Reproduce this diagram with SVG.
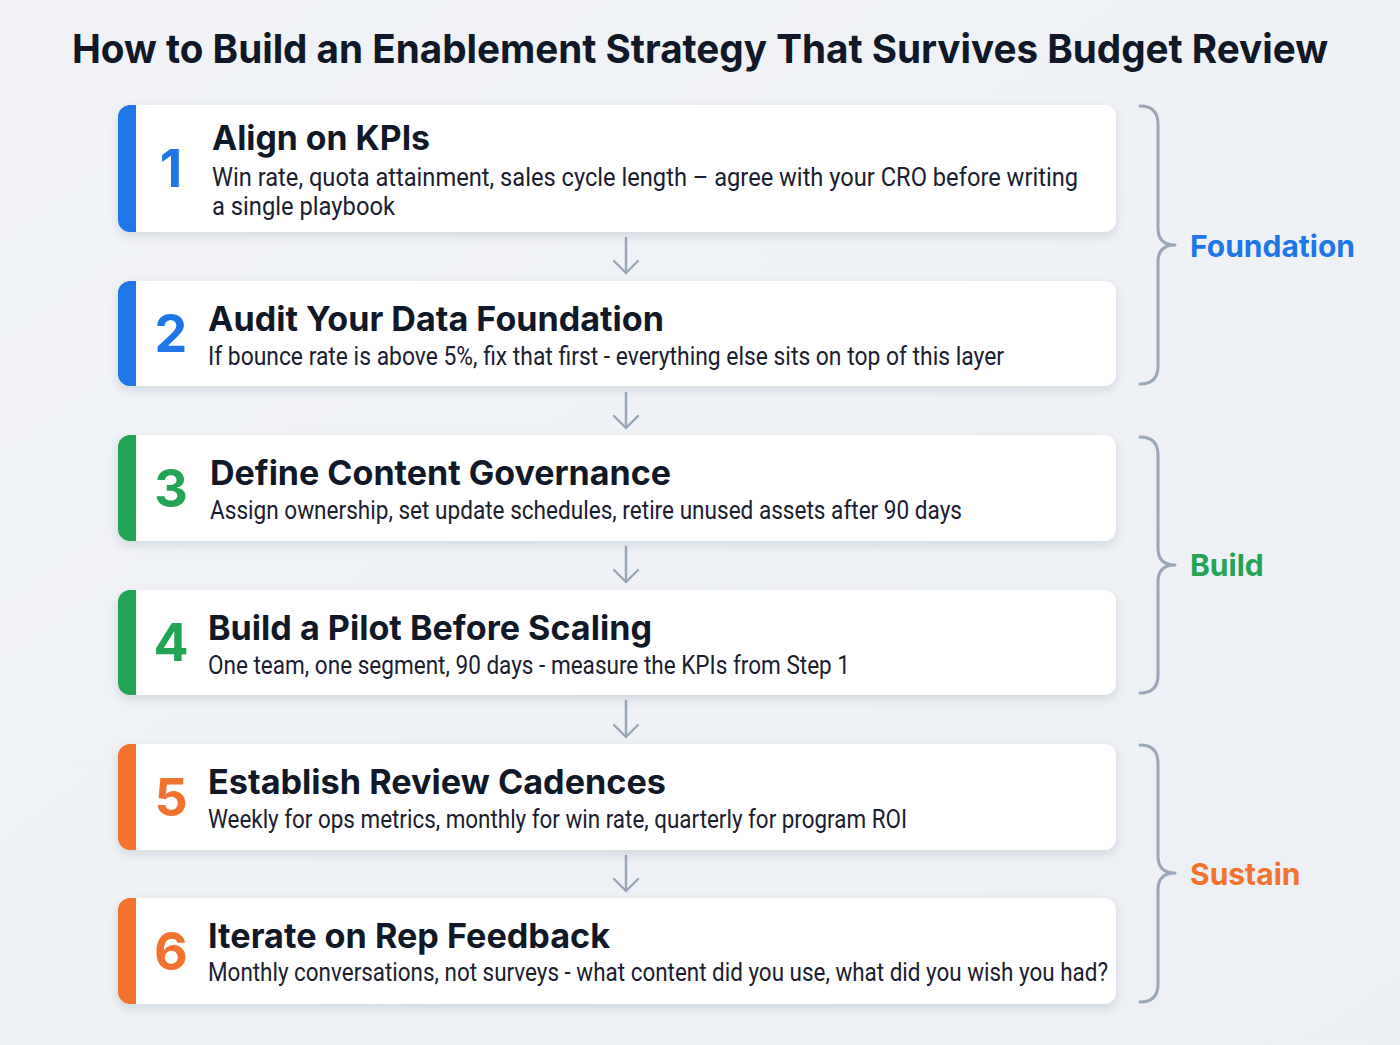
<svg xmlns="http://www.w3.org/2000/svg" width="1400" height="1045" viewBox="0 0 1400 1045">
<defs>
<linearGradient id="bg" x1="0" y1="0" x2="1" y2="1">
<stop offset="0" stop-color="#f1f3f7"/><stop offset="1" stop-color="#eceff3"/>
</linearGradient>
<filter id="sh" x="-5%" y="-20%" width="110%" height="150%">
<feDropShadow dx="0" dy="4" stdDeviation="5" flood-color="#1e2a3c" flood-opacity="0.13"/>
</filter>
<clipPath id="c1"><rect x="118" y="105" width="998" height="127" rx="12"/></clipPath>
<clipPath id="c2"><rect x="118" y="281" width="998" height="105" rx="12"/></clipPath>
<clipPath id="c3"><rect x="118" y="435" width="998" height="106" rx="12"/></clipPath>
<clipPath id="c4"><rect x="118" y="590" width="998" height="105" rx="12"/></clipPath>
<clipPath id="c5"><rect x="118" y="744" width="998" height="106" rx="12"/></clipPath>
<clipPath id="c6"><rect x="118" y="898" width="998" height="106" rx="12"/></clipPath>
<marker id="ah" markerWidth="16" markerHeight="28" refX="14" refY="14" orient="auto" markerUnits="userSpaceOnUse" viewBox="0 0 16 28">
<path d="M2,2 L14,14 L2,26" fill="none" stroke="#9aa7b8" stroke-width="2.4" stroke-linecap="round" stroke-linejoin="round"/>
</marker>
</defs>
<style>
.card{fill:#ffffff;filter:url(#sh)}
.ttl{font-family:Inter,"Liberation Sans",sans-serif;font-weight:700;fill:#111827}
.head{font-size:34px}
.desc{font-family:Roboto,"Liberation Sans",sans-serif;font-size:26px;fill:#1a2030}
.num{font-family:Inter,"Liberation Sans",sans-serif;font-weight:700;font-size:52px;text-anchor:middle}
.blue{fill:#1f76e6}.green{fill:#23a455}.orange{fill:#f27330}
.conn{stroke:#9aa7b8;stroke-width:2.4;fill:none;stroke-linecap:round}
.brace{stroke:#9aa7b8;stroke-width:3;fill:none;stroke-linecap:round;stroke-linejoin:round}
.grp{font-family:Inter,"Liberation Sans",sans-serif;font-weight:700;font-size:30px}
</style>
<rect width="1400" height="1045" fill="url(#bg)"/>
<text x="700" y="63" class="ttl" font-size="40" text-anchor="middle" textLength="1256" lengthAdjust="spacingAndGlyphs">How to Build an Enablement Strategy That Survives Budget Review</text>

<g id="connectors">
<line class="conn" x1="626" y1="238" x2="626" y2="273" marker-end="url(#ah)"/>
<line class="conn" x1="626" y1="393" x2="626" y2="428" marker-end="url(#ah)"/>
<line class="conn" x1="626" y1="547" x2="626" y2="582" marker-end="url(#ah)"/>
<line class="conn" x1="626" y1="701" x2="626" y2="737" marker-end="url(#ah)"/>
<line class="conn" x1="626" y1="856" x2="626" y2="891" marker-end="url(#ah)"/>
</g>

<g id="step1">
<rect class="card" x="118" y="105" width="998" height="127" rx="12"/>
<rect class="blue" x="118" y="105" width="18" height="127" clip-path="url(#c1)"/>
<text class="num blue" x="171" y="187">1</text>
<text class="ttl head" x="212" y="150" textLength="218" lengthAdjust="spacingAndGlyphs">Align on KPIs</text>
<text class="desc" x="212" y="186" textLength="866" lengthAdjust="spacingAndGlyphs">Win rate, quota attainment, sales cycle length – agree with your CRO before writing</text>
<text class="desc" x="212" y="215" textLength="183" lengthAdjust="spacingAndGlyphs">a single playbook</text>
</g>

<g id="step2">
<rect class="card" x="118" y="281" width="998" height="105" rx="12"/>
<rect class="blue" x="118" y="281" width="18" height="105" clip-path="url(#c2)"/>
<text class="num blue" x="171" y="352">2</text>
<text class="ttl head" x="208" y="331" textLength="456" lengthAdjust="spacingAndGlyphs">Audit Your Data Foundation</text>
<text class="desc" x="208" y="365" textLength="796" lengthAdjust="spacingAndGlyphs">If bounce rate is above 5%, fix that first - everything else sits on top of this layer</text>
</g>

<g id="step3">
<rect class="card" x="118" y="435" width="998" height="106" rx="12"/>
<rect class="green" x="118" y="435" width="18" height="106" clip-path="url(#c3)"/>
<text class="num green" x="171" y="507">3</text>
<text class="ttl head" x="210" y="485" textLength="461" lengthAdjust="spacingAndGlyphs">Define Content Governance</text>
<text class="desc" x="210" y="519" textLength="752" lengthAdjust="spacingAndGlyphs">Assign ownership, set update schedules, retire unused assets after 90 days</text>
</g>

<g id="step4">
<rect class="card" x="118" y="590" width="998" height="105" rx="12"/>
<rect class="green" x="118" y="590" width="18" height="105" clip-path="url(#c4)"/>
<text class="num green" x="171" y="661">4</text>
<text class="ttl head" x="208" y="640" textLength="444" lengthAdjust="spacingAndGlyphs">Build a Pilot Before Scaling</text>
<text class="desc" x="208" y="674" textLength="642" lengthAdjust="spacingAndGlyphs">One team, one segment, 90 days - measure the KPIs from Step 1</text>
</g>

<g id="step5">
<rect class="card" x="118" y="744" width="998" height="106" rx="12"/>
<rect class="orange" x="118" y="744" width="18" height="106" clip-path="url(#c5)"/>
<text class="num orange" x="171" y="816">5</text>
<text class="ttl head" x="208" y="794" textLength="458" lengthAdjust="spacingAndGlyphs">Establish Review Cadences</text>
<text class="desc" x="208" y="828" textLength="699" lengthAdjust="spacingAndGlyphs">Weekly for ops metrics, monthly for win rate, quarterly for program ROI</text>
</g>

<g id="step6">
<rect class="card" x="118" y="898" width="998" height="106" rx="12"/>
<rect class="orange" x="118" y="898" width="18" height="106" clip-path="url(#c6)"/>
<text class="num orange" x="171" y="970">6</text>
<text class="ttl head" x="208" y="948" textLength="402" lengthAdjust="spacingAndGlyphs">Iterate on Rep Feedback</text>
<text class="desc" x="208" y="981" textLength="900" lengthAdjust="spacingAndGlyphs">Monthly conversations, not surveys - what content did you use, what did you wish you had?</text>
</g>

<g id="group-foundation">
<path class="brace" d="M1140,106 Q1158,106 1158,124 L1158,228 Q1158,245 1175,245 Q1158,245 1158,262 L1158,366 Q1158,384 1140,384"/>
<text class="grp blue" x="1190" y="257">Foundation</text>
</g>
<g id="group-build">
<path class="brace" d="M1140,437 Q1158,437 1158,455 L1158,548 Q1158,565 1175,565 Q1158,565 1158,582 L1158,675 Q1158,693 1140,693"/>
<text class="grp green" x="1190" y="576">Build</text>
</g>
<g id="group-sustain">
<path class="brace" d="M1140,745 Q1158,745 1158,763 L1158,856 Q1158,873 1175,873 Q1158,873 1158,890 L1158,984 Q1158,1002 1140,1002"/>
<text class="grp orange" x="1190" y="885">Sustain</text>
</g>
</svg>
